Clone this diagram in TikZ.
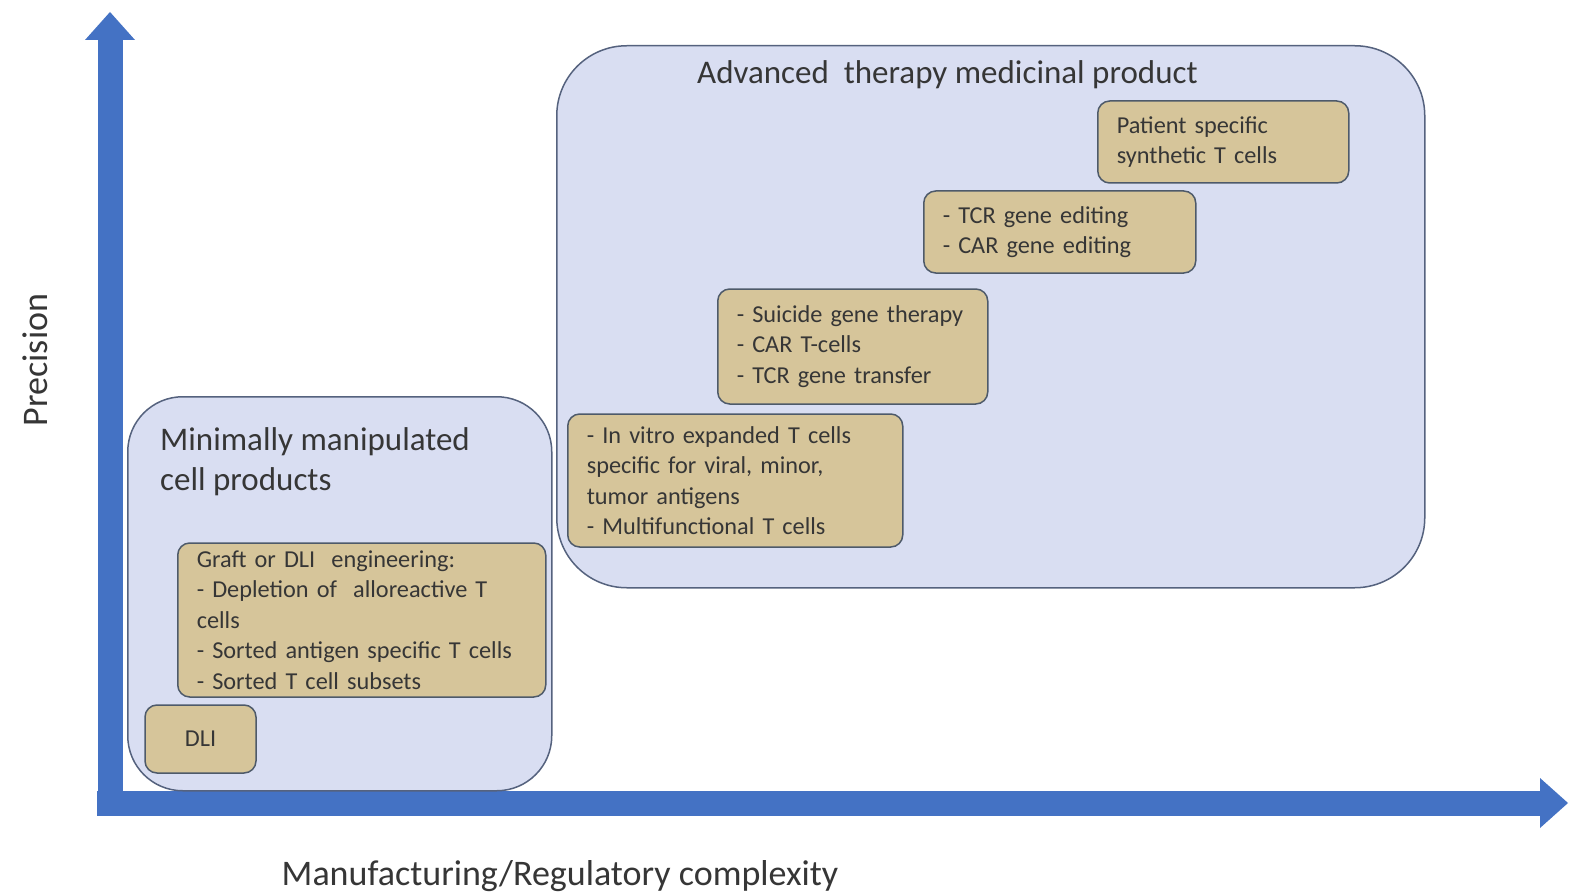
\documentclass[tikz,border=0pt]{standalone}
\usepackage{fontspec}
\setmainfont{Carlito}
\usetikzlibrary{arrows.meta}
\definecolor{axisblue}{HTML}{4472C4}
\definecolor{groupfill}{HTML}{D9DEF2}
\definecolor{groupline}{HTML}{55627E}
\definecolor{boxfill}{HTML}{D6C59A}
\definecolor{boxline}{HTML}{4E5A6A}
\definecolor{textgray}{HTML}{363636}
\begin{document}
\begin{tikzpicture}[x=1pt,y=-1pt,
    axis/.style={draw=axisblue, line width=25pt, -{Triangle[width=50pt,length=28pt,line width=0pt]}},
    group/.style={draw=groupline, line width=1.5pt, fill=groupfill, rounded corners=#1, inner sep=0pt, anchor=north west},
    tbox/.style={draw=boxline, line width=1.5pt, fill=boxfill, rounded corners=12pt, align=left, anchor=west,
        inner xsep=19pt, text=textgray, font=\fontsize{24.3}{30.5}\selectfont},
    title/.style={align=left, anchor=west, inner sep=0pt, text=textgray, font=\fontsize{33}{40}\selectfont},
    axislabel/.style={inner sep=0pt, text=textgray, font=\fontsize{36}{40}\selectfont}]
    \useasboundingbox[fill=white] (0,0) rectangle (1571,896);

    % axes
    \coordinate (origin) at (110,815);
    \coordinate (ytip) at (110,12);
    \coordinate (xstart) at (97,803);
    \coordinate (xtip) at (1568,803);
    \draw[axis] (origin) -- (ytip);
    \draw[axis] (xstart) -- (xtip);
    \node[axislabel, rotate=90] (prec) at (35,360) {Precision};
    \node[axislabel] (cplx) at (560,876) {Manufacturing/Regulatory complexity};

    % groups
    \node[group=55pt, minimum width=424pt, minimum height=394pt] (mmcp) at (127,396) {};
    \node[group=70pt, minimum width=868pt, minimum height=542pt] (atmp) at (556,45) {};
    \node[title] (mmcpt) at (160,462) {Minimally manipulated\\cell products};
    \node[title] (atmpt) at (697,75) {Advanced~ therapy medicinal product};

    % products
    \node[tbox, align=center, anchor=center, minimum width=111pt, minimum height=68pt] (dli) at (200.5,739) {DLI};
    \node[tbox, text width=330pt, minimum height=154pt] (graft) at (177,620)
        {Graft or DLI~ engineering:\\- Depletion of~ alloreactive T\\cells\\- Sorted antigen specific T cells\\- Sorted T cell subsets};
    \node[tbox, text width=297pt, minimum height=133pt] (vitro) at (567,480.5)
        {- In vitro expanded T cells\\specific for viral, minor,\\tumor antigens\\- Multifunctional T cells};
    \node[tbox, text width=232pt, minimum height=115pt] (gene) at (717,346.5)
        {- Suicide gene therapy\\- CAR T-cells\\- TCR gene transfer};
    \node[tbox, text width=234pt, minimum height=82pt] (edit) at (923,232)
        {- TCR gene editing\\- CAR gene editing};
    \node[tbox, text width=213pt, minimum height=82pt] (synth) at (1097,142)
        {Patient specific\\synthetic T cells};
\end{tikzpicture}
\end{document}
